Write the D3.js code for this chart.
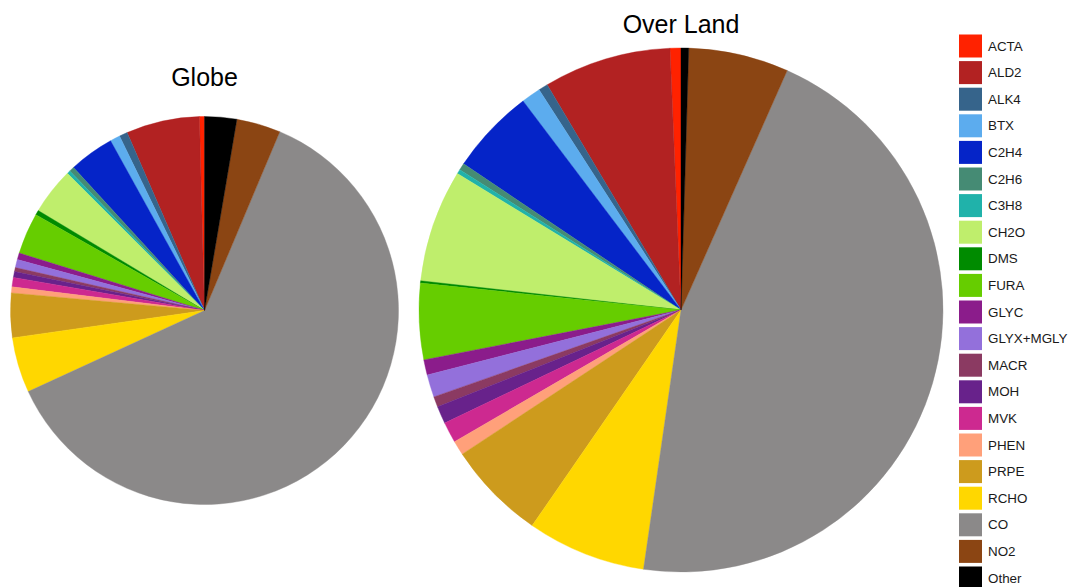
<!DOCTYPE html>
<html>
<head>
<meta charset="utf-8">
<script src="https://cdn.jsdelivr.net/npm/d3@7"></script>
<style>
  html, body { margin: 0; padding: 0; background: #fff; }
  svg { display: block; }
  text { font-family: "Liberation Sans", Arial, Helvetica, sans-serif; }
</style>
</head>
<body>
<svg id="chart" width="1070" height="587"></svg>
<script>
// Species (legend order, also slice order going counter-clockwise from 12 o'clock)
const species = ["ACTA","ALD2","ALK4","BTX","C2H4","C2H6","C3H8","CH2O","DMS","FURA",
  "GLYC","GLYX+MGLY","MACR","MOH","MVK","PHEN","PRPE","RCHO","CO","NO2","Other"];

const colors = ["#ff2200","#b22222","#36648b","#5cacee","#0524c8","#458b74","#20b2aa","#bfee6c",
  "#008b00","#66cd00","#8b1c8b","#9370db","#8b3a62","#68228b","#cd2990","#ffa07a",
  "#cd9b1d","#ffd700","#8b8989","#8b4513","#000000"];

// Percent contributions
const globeValues = [0.42, 6.11, 0.69, 0.83, 3.75, 0.42, 0.28, 3.89, 0.39, 3.44,
  0.56, 0.67, 0.33, 0.50, 0.78, 0.50, 3.70, 4.61, 61.81, 3.67, 2.67];

const landValues = [0.67, 7.86, 0.58, 1.19, 5.28, 0.42, 0.28, 6.94, 0.14, 4.69,
  0.94, 1.39, 0.64, 1.08, 1.28, 0.89, 6.11, 7.33, 45.64, 6.17, 0.47];

const titles = ["Globe", "Over Land"];

const svg = d3.select("#chart");
const color = d3.scaleOrdinal().domain(species).range(colors);

const pie = d3.pie().sort(null).value(d => d.v).startAngle(0).endAngle(-2 * Math.PI);

function drawPie(values, cx, cy, r, title, titleY) {
  const data = species.map((s, i) => ({ s, v: values[i] }));
  const g = svg.append("g").attr("transform", `translate(${cx},${cy})`);
  const arc = d3.arc().innerRadius(0).outerRadius(r);
  g.selectAll("path").data(pie(data)).join("path")
    .attr("d", arc)
    .attr("fill", d => color(d.data.s))
    .attr("stroke", d => color(d.data.s))
    .attr("stroke-width", 0.4);
  svg.append("text")
    .attr("x", cx).attr("y", titleY)
    .attr("text-anchor", "middle")
    .attr("font-size", 25)
    .attr("fill", "#000")
    .text(title);
}

drawPie(globeValues, 204.5, 310.5, 194, titles[0], 86);
drawPie(landValues, 681, 310, 262, titles[1], 33);

// Legend
const ly = d3.scaleBand().domain(species).range([34.5, 34.5 + 26.6 * species.length]);
const leg = svg.append("g");
const item = leg.selectAll("g").data(species).join("g")
  .attr("transform", d => `translate(959,${ly(d)})`);
item.append("rect")
  .attr("width", 23).attr("height", 23)
  .attr("fill", d => color(d));
item.append("text")
  .attr("x", 29).attr("y", 11.5)
  .attr("dy", "0.35em")
  .attr("font-size", 13.4)
  .attr("fill", "#1a1a1a")
  .text(d => d);
</script>
</body>
</html>
